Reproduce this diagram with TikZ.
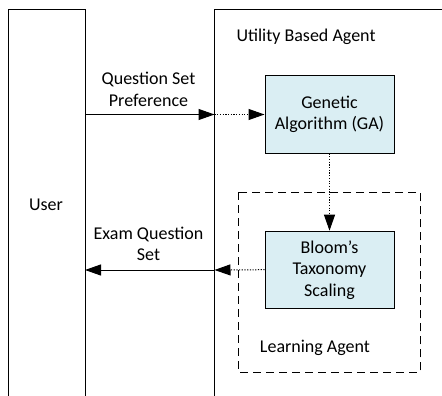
\documentclass[tikz,border=0pt]{standalone}
\usepackage{fontspec}
\setmainfont{Carlito}
\usetikzlibrary{arrows.meta}
\definecolor{procfill}{HTML}{DAEEF3}
\begin{document}
\begin{tikzpicture}[x=1pt,y=-1pt,
  font=\fontsize{18}{21.5}\selectfont,
  line width=1pt,
  tip/.style={-{Triangle[length=16pt,width=11pt]}},
  proc/.style={draw, fill=procfill, minimum width=129pt, minimum height=77pt, align=center, inner sep=0pt},
  lbl/.style={align=center, inner sep=0pt},
  dotline/.style={dash pattern=on 1.2pt off 1.5pt}]
\useasboundingbox (0,0) rectangle (442,396);
% lanes, open at the bottom
\draw (8,396) -- (8,10) -- (85,10) -- (85,396);
\draw (214.5,396) -- (214.5,10) -- (442,10);
\coordinate (userR1) at (85,114.5);
\coordinate (utilL1) at (214.5,114.5);
\coordinate (userR2) at (85,270);
\coordinate (utilL2) at (214.5,270);
\node[lbl] (user) at (46,205) {User};
\node[lbl, anchor=west] (uba) at (236,37) {Utility Based Agent};
% learning agent boundary
\draw[dashed, dash pattern=on 8pt off 5pt] (238.7,192.3) rectangle (420,372.7);
\node[lbl] (la) at (315,348) {Learning Agent};
% processes
\node[proc] (ga) at (329.5,114.5) {Genetic\\Algorithm (GA)};
\node[proc] (bts) at (329.5,269.7) {Bloom’s\\Taxonomy\\Scaling};
% flows
\draw[tip] (userR1) -- (utilL1);
\draw[tip, dotline] (utilL1) -- (ga.west);
\draw[tip, dotline] (ga.south) -- (bts.north);
\draw[tip, dotline] (bts.west) -- (utilL2);
\draw[tip] (utilL2) -- (userR2);
\node[lbl] (qsp) at (148.5,89.5) {Question Set\\Preference};
\node[lbl] (eqs) at (148.5,244) {Exam Question\\Set};
\end{tikzpicture}
\end{document}
